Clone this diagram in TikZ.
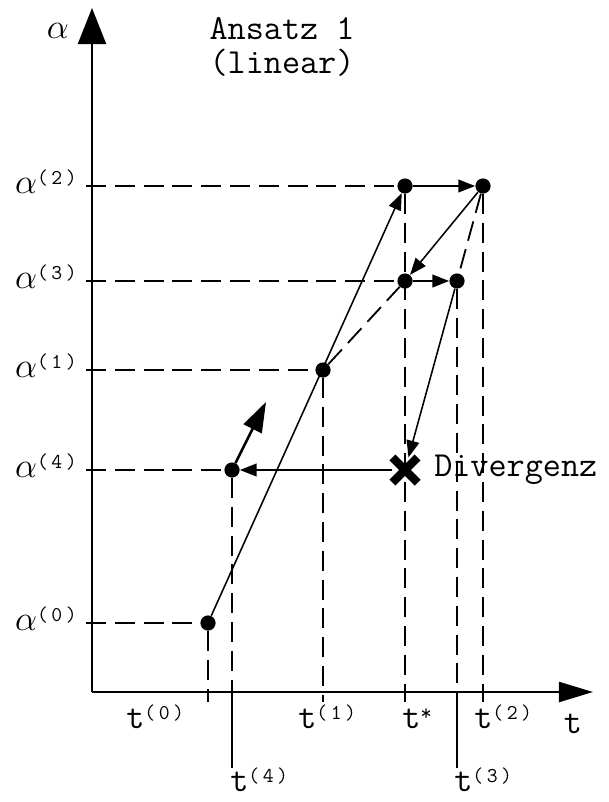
\documentclass[tikz,border=0pt]{standalone}
\usepackage{fontspec}
\usetikzlibrary{arrows.meta,calc,positioning,shapes.misc}

\newcommand{\upidx}[1]{\raisebox{6pt}{\fontsize{15}{15}\selectfont(\,#1\,)}}

\tikzset{
  dot/.style={circle,fill=black,inner sep=0pt,minimum size=0.38cm},
  guide/.style={line width=1.3pt,dash pattern=on 0.5cm off 0.22cm},
  arr/.style={line width=1.1pt,-{Triangle[length=0.42cm,width=0.32cm]}},
  lbl/.style={font=\ttfamily\fontsize{25}{24}\selectfont,inner sep=0pt},
}

\begin{document}
\begin{tikzpicture}[x=0.025cm,y=-0.025cm]
  \useasboundingbox (0,0) rectangle (609,802);
  % axes
  \coordinate (o) at (92,692);
  \coordinate (ytip) at (92,8);
  \coordinate (xtip) at (593,692);
  \draw[line width=1.6pt,-{Triangle[length=0.9cm,width=0.7cm]}] (o) -- (ytip);
  \draw[line width=1.6pt,-{Triangle[length=0.85cm,width=0.5cm]}] (o) -- (xtip);
  \node[lbl] (alab) at (58,31) {$\alpha$};
  \node[lbl,anchor=base] (tlab) at (573,733) {t};
  \node[lbl,align=center] (title) at (282,47) {Ansatz 1\\(linear)};

  % iteration points
  \node[dot] (p0) at (208,623) {};
  \node[dot] (p1) at (323,370) {};
  \node[dot] (p2s) at (405,186) {};
  \node[dot] (p2) at (483,186) {};
  \node[dot] (p3s) at (405,281) {};
  \node[dot] (p3) at (457,281) {};
  \node[dot] (p4) at (232,470) {};
  \node[draw,cross out,line width=6pt,minimum size=0.42cm,inner sep=0pt] (div) at (405,470) {};
  \node[lbl,anchor=west] (divtxt) at (434,470) {Divergenz};

  % alpha levels
  \node[lbl,anchor=base east] (la0) at (77,630) {$\alpha$\upidx{0}};
  \node[lbl,anchor=base east] (la4) at (77,477) {$\alpha$\upidx{4}};
  \node[lbl,anchor=base east] (la1) at (77,377) {$\alpha$\upidx{1}};
  \node[lbl,anchor=base east] (la3) at (77,288) {$\alpha$\upidx{3}};
  \node[lbl,anchor=base east] (la2) at (77,193) {$\alpha$\upidx{2}};
  \draw[guide] ($(p0 -| o)+(-6,0)$) -- (p0);
  \draw[guide] ($(p4 -| o)+(-6,0)$) -- (p4);
  \draw[guide] ($(p1 -| o)+(-6,0)$) -- (p1);
  \draw[guide] ($(p3s -| o)+(-6,0)$) -- (p3s);
  \draw[guide] ($(p2s -| o)+(-6,0)$) -- (p2s);

  % t levels
  \node[lbl,anchor=base west] (lt0) at (126,728) {t\upidx{0}};
  \node[lbl,anchor=base west] (lt1) at (298,728) {t\upidx{1}};
  \node[lbl,anchor=base west] (lts) at (402,728) {t\raisebox{5pt}{\fontsize{16}{16}\selectfont*}};
  \node[lbl,anchor=base west] (lt2) at (474,728) {t\upidx{2}};
  \node[lbl,anchor=base west] (lt4) at (230,791) {t\upidx{4}};
  \node[lbl,anchor=base west] (lt3) at (454,791) {t\upidx{3}};
  \coordinate (f4) at (232,768);
  \coordinate (f3) at (457,768);
  \draw[guide] (p0) -- ($(p0 |- o)+(0,10)$);
  \draw[guide] (p1) -- ($(p1 |- o)+(0,10)$);
  \draw[guide] (p2s) -- ($(p2s |- o)+(0,10)$);
  \draw[guide] (p2) -- ($(p2 |- o)+(0,10)$);
  \draw[guide] (p4) -- (p4 |- o);
  \draw[guide] (p3) -- (p3 |- o);
  \draw[line width=1.3pt] (p4 |- o) -- (f4);
  \draw[line width=1.3pt] (p3 |- o) -- (f3);

  % secants
  \draw[guide] (p1) -- (p3s);
  \draw[guide] (p2) -- (p3);

  % iteration steps
  \draw[arr] (p0) -- (p2s);
  \draw[arr] (p2s) -- (p2);
  \draw[arr] (p2) -- (p3s);
  \draw[arr] (p3s) -- (p3);
  \draw[arr] (p3) -- (div);
  \draw[arr] (div) -- (p4);
  \coordinate (dir) at (266,402);
  \draw[line width=1.8pt,-{Triangle[length=0.75cm,width=0.5cm]}] (p4) -- (dir);
\end{tikzpicture}
\end{document}
